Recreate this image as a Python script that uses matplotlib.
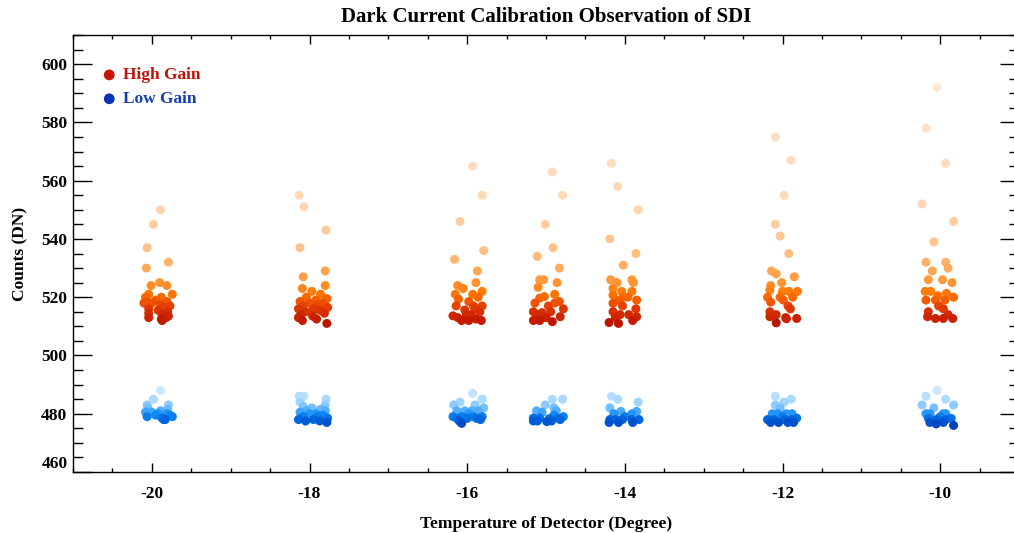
import numpy as np
import matplotlib
matplotlib.use("Agg")
import matplotlib.pyplot as plt
from matplotlib.colors import LinearSegmentedColormap, Normalize

plt.rcParams["font.family"] = ["Liberation Serif", "DejaVu Serif"]
plt.rcParams["font.weight"] = "bold"
plt.rcParams["axes.unicode_minus"] = False

# temperaturas de medida (graus)
temps = [-20, -18, -16, -15, -14, -12, -10]

# contagens High Gain por temperatura (DN)
high_counts = [
    [550, 545, 537, 532, 530, 525, 524, 524, 521, 521, 520, 520, 519, 518.5, 518.5,
     518, 518, 517.5, 517, 516.5, 516, 515.5, 515, 514.5, 514, 513.5, 513, 512.5, 512, 513],
    [555, 551, 543, 537, 529, 527, 524, 523, 522, 521, 520, 519.5, 519, 518.5, 518,
     518, 517.5, 517, 516.5, 516, 516, 515.5, 515, 514.5, 514, 513.5, 513, 512.5, 512, 511],
    [565, 555, 546, 536, 533, 529, 524, 525, 523, 522, 521, 521, 519.3, 517, 517,
     517, 515.6, 513.6, 515, 512, 512, 512.5, 514, 513, 518.5, 520, 516, 514, 512],
    [563, 555, 545, 537, 534, 530, 526, 526, 525, 523.4, 521, 520.2, 519.7, 518, 518,
     518.5, 516, 515, 514.7, 515, 512, 512, 511.6, 513.3, 513, 517, 514],
    [566, 558, 550, 540, 535, 531, 526, 526, 525, 525, 523, 522, 522, 520.7, 520,
     519, 519, 520, 517.9, 517, 516, 515, 514, 511.3, 511, 512, 513.3, 513, 514],
    [575, 567, 555, 545, 541, 535, 529, 528, 527, 525, 524, 522.4, 522, 522, 522,
     520, 520, 520, 518.3, 519, 517, 515, 514, 513, 512.7, 513.3, 511.2, 512.6, 516],
    [592, 578, 566, 552, 546, 539, 532, 532, 530, 529, 526, 526, 525, 522, 522,
     521.3, 520, 519, 519, 519, 516, 515, 513.3, 512.7, 512.7, 512.7, 517, 514, 520.5],
]
high_jitter = [
    [0.11, 0.02, -0.06, 0.21, -0.07, 0.10, -0.01, 0.19, 0.26, -0.04, 0.12, -0.08, 0.05, -0.06, 0.19,
     -0.10, 0.00, 0.11, 0.23, 0.15, -0.04, 0.08, 0.20, -0.04, 0.13, 0.21, -0.04, 0.12, 0.13, 0.18],
    [-0.13, -0.07, 0.21, -0.12, 0.20, -0.08, 0.20, -0.09, 0.03, 0.14, -0.04, 0.22, 0.08, -0.12, 0.00,
     0.17, 0.10, -0.08, 0.23, 0.05, -0.14, 0.13, -0.05, 0.19, -0.11, 0.04, -0.14, 0.09, -0.09, 0.22],
    [0.07, 0.19, -0.09, 0.21, -0.16, 0.13, -0.12, 0.11, -0.05, 0.19, 0.07, -0.15, -0.11, -0.14, 0.19,
     0.08, -0.03, -0.18, 0.16, -0.07, 0.02, 0.11, 0.05, -0.12, 0.02, 0.14, 0.10, -0.01, 0.18],
    [0.08, 0.21, -0.01, 0.09, -0.11, 0.17, -0.08, -0.03, 0.14, -0.10, 0.11, -0.02, -0.08, -0.14, 0.11,
     0.17, 0.22, -0.16, -0.05, 0.06, -0.16, -0.08, 0.08, 0.18, 0.00, 0.03, -0.12],
    [-0.17, -0.09, 0.17, -0.19, 0.14, -0.02, -0.18, 0.09, -0.10, 0.11, -0.15, -0.04, 0.09, -0.15, 0.04,
     0.15, -0.07, -0.02, -0.15, -0.03, 0.14, -0.15, -0.06, -0.20, -0.08, 0.10, 0.15, -0.12, 0.05],
    [-0.09, 0.11, 0.02, -0.09, -0.03, 0.08, -0.14, -0.08, 0.15, -0.01, -0.15, -0.16, 0.00, 0.08, 0.19,
     -0.19, -0.03, 0.13, -0.15, 0.01, 0.07, -0.16, -0.08, 0.04, 0.18, -0.16, -0.08, 0.05, 0.10],
    [-0.04, -0.18, 0.07, -0.23, 0.17, -0.08, -0.18, 0.07, 0.10, -0.10, -0.15, 0.03, 0.15, -0.19, -0.12,
     0.08, 0.17, -0.18, -0.06, 0.06, 0.04, -0.15, -0.16, -0.06, 0.04, 0.16, -0.02, 0.10, -0.03],
]

# contagens Low Gain por temperatura (DN)
low_counts = [
    [488, 485, 483, 483, 482, 481, 481.5, 480.5, 480.5, 480, 479.5, 479, 479, 478.5, 478,
     479.5, 478, 480],
    [486, 486, 485, 484, 483, 482.5, 482, 481.5, 481, 481, 480.5, 480, 480, 479.5, 479,
     479, 478.5, 478, 478, 477.5, 477, 477.5],
    [487, 485, 484, 483, 483, 482, 481, 481, 481, 481, 479, 479, 479, 479, 478.4,
     478.4, 478.4, 476.7, 480, 478, 477.5],
    [485, 485, 483, 482, 481, 480.5, 481, 478.5, 478.5, 478.3, 478.5, 479, 477.5, 477.5, 477.3,
     477.5, 479.5, 478],
    [486, 485, 484, 482, 480.8, 480.8, 480, 480, 478, 478, 478, 478, 478, 477, 477,
     477, 479],
    [486, 485, 484, 483, 482, 480, 480, 480, 480, 478, 478, 478, 478, 478.5, 477,
     477, 477, 477, 479],
    [488, 486, 485, 483, 483, 482, 480, 480, 480, 480, 478.4, 478, 478, 478.4, 477,
     476.5, 477, 476, 479],
]
low_jitter = [
    [0.11, 0.02, -0.06, 0.21, -0.05, 0.11, 0.20, -0.08, 0.00, 0.19, 0.05, 0.26, -0.06, 0.13, 0.17,
     0.23, 0.15, 0.08],
    [-0.13, -0.07, 0.21, -0.12, 0.20, -0.08, 0.03, 0.14, -0.04, 0.20, -0.12, 0.08, 0.00, 0.17, -0.08,
     0.10, 0.23, -0.14, 0.05, 0.13, 0.22, -0.05],
    [0.07, 0.19, -0.09, -0.17, 0.10, 0.21, -0.13, -0.03, 0.06, 0.14, -0.18, -0.07, 0.08, 0.19, -0.13,
     0.00, 0.12, -0.07, 0.02, 0.17, -0.10],
    [0.08, 0.21, -0.01, 0.10, -0.12, -0.05, 0.13, -0.16, -0.08, 0.04, 0.15, 0.22, -0.16, -0.11, 0.01,
     0.07, 0.10, 0.18],
    [-0.17, -0.09, 0.17, -0.19, -0.05, 0.15, -0.14, 0.09, -0.19, -0.11, -0.03, 0.09, 0.18, -0.20, -0.08,
     0.10, 0.00],
    [-0.09, 0.11, 0.02, -0.09, -0.03, -0.13, -0.06, 0.05, 0.12, -0.19, -0.11, 0.03, 0.12, 0.18, -0.15,
     -0.05, 0.07, 0.14, 0.00],
    [-0.04, -0.18, 0.07, -0.23, 0.17, -0.08, -0.18, -0.13, 0.04, 0.07, -0.15, -0.05, 0.07, 0.14, -0.13,
     -0.05, 0.04, 0.17, 0.00],
]

# paletas: escuro nos valores baixos, claro nos altos
cmap_high = LinearSegmentedColormap.from_list("high", [
    (0.00, (0.74, 0.08, 0.00)),
    (0.06, (0.88, 0.22, 0.00)),
    (0.12, (1.00, 0.45, 0.00)),
    (0.18, (1.00, 0.60, 0.22)),
    (0.30, (1.00, 0.75, 0.52)),
    (0.50, (1.00, 0.84, 0.70)),
    (1.00, (1.00, 0.90, 0.82)),
])
norm_high = Normalize(511, 592)

cmap_low = LinearSegmentedColormap.from_list("low", [
    (0.00, (0.00, 0.25, 0.74)),
    (0.15, (0.00, 0.38, 0.86)),
    (0.30, (0.06, 0.55, 0.96)),
    (0.45, (0.40, 0.72, 1.00)),
    (0.65, (0.62, 0.83, 1.00)),
    (1.00, (0.80, 0.91, 1.00)),
])
norm_low = Normalize(476, 488)

fig = plt.figure(figsize=(10.14, 5.33), dpi=100)
ax = fig.add_axes([73 / 1014, 61 / 533, 946 / 1014, 437 / 533])


def draw_group(counts, jitter, cmap, norm):
    for t, vals, dx in zip(temps, counts, jitter):
        vals = np.asarray(vals, dtype=float)
        xs = t + np.asarray(dx)
        order = np.argsort(-vals)  # pontos escuros por cima
        ax.scatter(xs[order], vals[order], s=42, c=vals[order], cmap=cmap,
                   norm=norm, edgecolors="none", zorder=3)


draw_group(high_counts, high_jitter, cmap_high, norm_high)
draw_group(low_counts, low_jitter, cmap_low, norm_low)

ax.set_xlim(-21, -9)
ax.set_ylim(460, 610)
ax.set_xticks(np.arange(-20, -9, 2))
ax.set_xticks(np.arange(-21, -8.9, 0.5), minor=True)
ax.set_yticks(np.arange(460, 601, 20))
ax.set_yticks(np.arange(460, 611, 5), minor=True)
ax.tick_params(which="both", direction="in", top=True, right=True, width=1.0,
               labelsize=12.5)
ax.tick_params(axis="x", which="major", length=6.5, pad=10)
ax.tick_params(axis="x", which="minor", length=3.2)
ax.tick_params(axis="y", which="major", length=13.7, pad=4)
ax.tick_params(axis="y", which="minor", length=7.2)
for lab in ax.get_xticklabels() + ax.get_yticklabels():
    lab.set_fontweight("bold")
ax.get_yticklabels()[0].set_verticalalignment("bottom")
for sp in ax.spines.values():
    sp.set_linewidth(1.0)

ax.set_title("Dark Current Calibration Observation of SDI", fontsize=15,
             fontweight="bold", pad=9)
ax.set_xlabel("Temperature of Detector (Degree)", fontsize=12.5, fontweight="bold",
              labelpad=10)
ax.set_ylabel("Counts (DN)", fontsize=12.5, fontweight="bold", labelpad=9)

# legenda manual
ax.scatter([-20.54], [596.3], s=60, color="#c81400", edgecolors="none", zorder=4)
ax.scatter([-20.54], [588.1], s=60, color="#0a32b4", edgecolors="none", zorder=4)
ax.text(-20.36, 596.3, "High Gain", color="#c01408", fontsize=12.5,
        fontweight="bold", va="center")
ax.text(-20.36, 588.1, "Low Gain", color="#1440b4", fontsize=12.5,
        fontweight="bold", va="center")

fig.savefig("out.png", dpi=100)
